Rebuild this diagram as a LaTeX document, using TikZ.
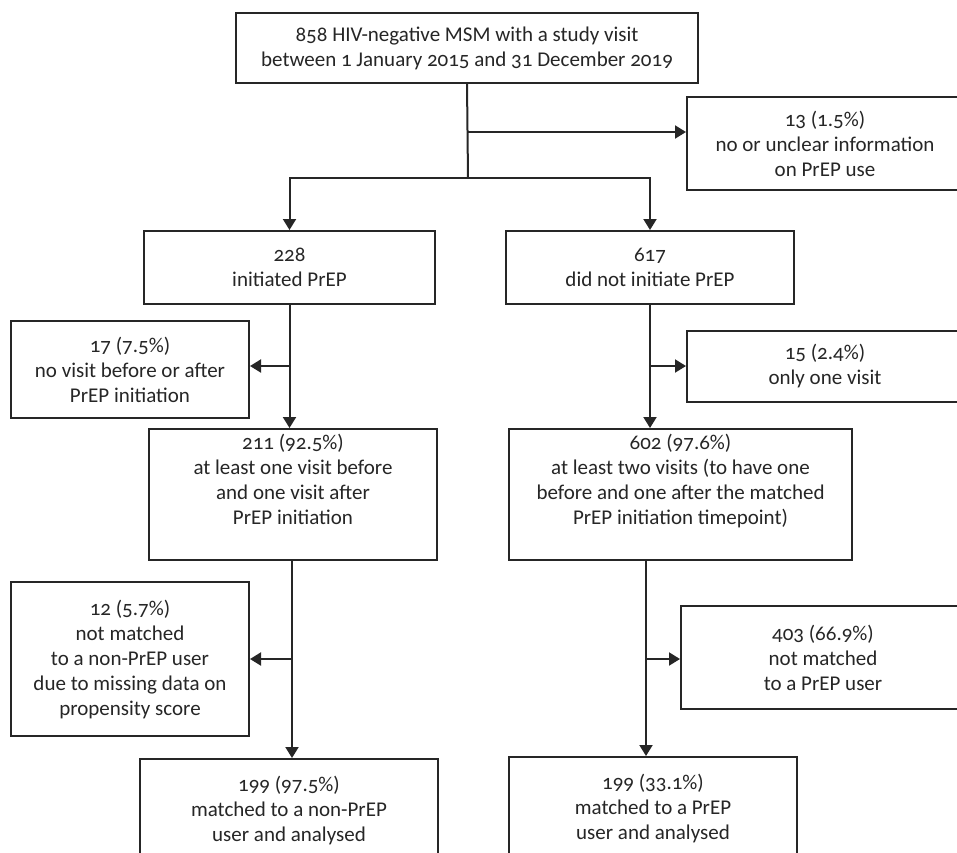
\documentclass[tikz,border=0pt]{standalone}
\usepackage{fontspec}
\setmainfont{Carlito}[Numbers=OldStyle]
\usetikzlibrary{arrows.meta,calc}
\begin{document}
\begin{tikzpicture}[x=1pt,y=-1pt,
  box/.style={draw=black!85,line width=2pt,fill=white,inner sep=0pt,align=center,
    font=\fontsize{21}{25}\selectfont,text=black!85},
  arr/.style={line width=2pt,draw=black!85,-{Triangle[length=11pt,width=13pt]}},
  ln/.style={line width=2pt,draw=black!85}]
\useasboundingbox (0,0) rectangle (957,852);
\clip (0,0) rectangle (957,852);
\node[box,minimum width=462,minimum height=70] (top) at (467,48)
  {858 HIV-negative MSM with a study visit\\between 1 January 2015 and 31 December 2019};
\node[box,minimum width=276,minimum height=93] (ex1) at (825,143.5)
  {13 (1.5\%)\\no or unclear information\\on PrEP use};
\node[box,minimum width=291,minimum height=73] (l1) at (289.5,267.5)
  {228\\initiated PrEP};
\node[box,minimum width=288,minimum height=73] (r1) at (650,267.5)
  {617\\did not initiate PrEP};
\node[box,minimum width=238,minimum height=97] (ex2) at (130,369.5)
  {17 (7.5\%)\\no visit before or after\\PrEP initiation};
\node[box,minimum width=276,minimum height=71] (ex3) at (825,366.5)
  {15 (2.4\%)\\only one visit};
\node[box,minimum width=288,minimum height=131] (l2) at (293,494.5)
  {211 (92.5\%)\\at least one visit before\\and one visit after\\PrEP initiation\\[6pt]};
\node[box,minimum width=343,minimum height=131] (r2) at (680.5,494.5)
  {602 (97.6\%)\\at least two visits (to have one\\before and one after the matched\\PrEP initiation timepoint)\\[6pt]};
\node[box,minimum width=238,minimum height=154] (ex4) at (130,659)
  {12 (5.7\%)\\not matched\\to a non-PrEP user\\due to missing data on\\propensity score};
\node[box,minimum width=284,minimum height=103] (ex5) at (823,657.5)
  {403 (66.9\%)\\not matched\\to a PrEP user};
\node[box,minimum width=298,minimum height=102] (l3) at (289,810)
  {199 (97.5\%)\\matched to a non-PrEP\\user and analysed};
\node[box,minimum width=288,minimum height=102] (r3) at (653,808)
  {199 (33.1\%)\\matched to a PrEP\\user and analysed};
% top branch
\coordinate (j1) at (468,132);
\coordinate (j2) at (468,178);
\draw[ln] (top.south) -- (j2);
\draw[arr] (j1) -- (j1 -| ex1.west);
\draw[arr] (j2) -| (l1.north);
\draw[arr] (j2) -| (r1.north);
% left column
\coordinate (j3) at (290,366);
\draw[arr] (l1.south) -- (l1.south |- l2.north);
\draw[arr] (j3) -- (j3 -| ex2.east);
\coordinate (l2s) at (292,560);
\coordinate (j5) at (292,659);
\draw[arr] (l2s) -- (l2s |- l3.north);
\draw[arr] (j5) -- (j5 -| ex4.east);
% right column
\coordinate (j4) at (651,366);
\draw[arr] (r1.south) -- (r1.south |- r2.north);
\draw[arr] (j4) -- (j4 -| ex3.west);
\coordinate (r2s) at (646,560);
\coordinate (j6) at (646,659);
\draw[arr] (r2s) -- (r2s |- r3.north);
\draw[arr] (j6) -- (j6 -| ex5.west);
\end{tikzpicture}
\end{document}
